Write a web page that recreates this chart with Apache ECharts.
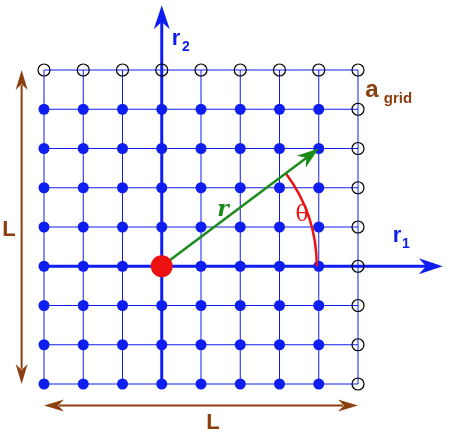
<!DOCTYPE html><html><head><meta charset="utf-8"><script src="https://cdn.jsdelivr.net/npm/echarts@6/dist/echarts.min.js"></script></head><body style="margin:0"><div id="c" style="width:461px;height:434px"></div><script>
var xs=[-3,-2,-1,0,1,2,3,4,5];
var ys=[-3,-2,-1,0,1,2,3,4,5];
var vecR=[4,3];
var arcR=3.95;
var r1End=7.16, r2End=6.65;
var lVertX=-3.57, lHorY=-3.55;
var BLUE='#0f1ef0', BROWN='#8b3f0f', GREEN='#1a8c1a', RED='#ee1111';
var chart=echarts.init(document.getElementById('c'));
function head(tip,tail,len,w,col){
 var dx=tip[0]-tail[0],dy=tip[1]-tail[1],d=Math.sqrt(dx*dx+dy*dy);dx/=d;dy/=d;
 var nx=-dy,ny=dx;
 var b=[tip[0]-dx*len,tip[1]-dy*len];
 var m=[tip[0]-dx*len*0.7,tip[1]-dy*len*0.7];
 return {type:'polygon',shape:{points:[tip,[b[0]+nx*w/2,b[1]+ny*w/2],m,[b[0]-nx*w/2,b[1]-ny*w/2]]},style:{fill:col}};
}
function line(a,b,col,w){return {type:'line',shape:{x1:a[0],y1:a[1],x2:b[0],y2:b[1]},style:{stroke:col,lineWidth:w}};}
function txt(p,t,col,size,extra){var s=Object.assign({x:p[0],y:p[1],text:t,fill:col,font:'bold '+size+'px Liberation Sans',align:'center',verticalAlign:'middle'},extra||{});return {type:'text',style:s};}
function render(params,api){
 var c=function(x,y){return api.coord([x,y]);};
 var ch=[];
 ys.forEach(function(y){ch.push(line(c(xs[0],y),c(xs[xs.length-1],y),BLUE,1));});
 xs.forEach(function(x){ch.push(line(c(x,ys[0]),c(x,ys[ys.length-1]),BLUE,1));});
 var o=c(0,0);
 ch.push(line(c(xs[0],0),c(r1End-0.4,0),BLUE,3));
 ch.push(head(c(r1End,0),o,24,16,BLUE));
 ch.push(line(c(0,ys[0]),c(0,r2End-0.4),BLUE,3));
 ch.push(head(c(0,r2End),o,24,16,BLUE));
 xs.forEach(function(x){ys.forEach(function(y){var p=c(x,y);
  var open=(x===xs[xs.length-1]||y===ys[ys.length-1]);
  ch.push({type:'circle',shape:{cx:p[0],cy:p[1],r:open?6:5.5},style:open?{fill:null,stroke:'#000',lineWidth:1.2}:{fill:BLUE}});
 });});
 var rp=c(arcR,0)[0]-o[0];var ang=Math.atan2(vecR[1],vecR[0]);
 ch.push({type:'arc',shape:{cx:o[0],cy:o[1],r:rp,startAngle:-ang,endAngle:0},style:{stroke:RED,lineWidth:2.5,fill:null}});
 var tip=c(vecR[0],vecR[1]);
 var dx=tip[0]-o[0],dy=tip[1]-o[1],d=Math.sqrt(dx*dx+dy*dy);
 ch.push(line(o,[tip[0]-dx/d*14,tip[1]-dy/d*14],GREEN,2.5));
 ch.push(head(tip,o,22,15,GREEN));
 ch.push({type:'circle',shape:{cx:o[0],cy:o[1],r:11},style:{fill:RED}});
 var a1=c(lVertX,ys[ys.length-1]),a2=c(lVertX,ys[0]);
 ch.push(line([a1[0],a1[1]+15],[a2[0],a2[1]-15],BROWN,2));
 ch.push(head(a1,a2,20,12,BROWN));ch.push(head(a2,a1,20,12,BROWN));
 var b1=c(xs[0],lHorY),b2=c(xs[xs.length-1],lHorY);
 ch.push(line([b1[0]+15,b1[1]],[b2[0]-15,b2[1]],BROWN,2));
 ch.push(head(b1,b2,20,12,BROWN));ch.push(head(b2,b1,20,12,BROWN));
 ch.push(txt([176,39],'r',BLUE,22));ch.push(txt([186,47],'2',BLUE,14));
 ch.push(txt([397,236],'r',BLUE,22));ch.push(txt([406,244],'1',BLUE,14));
 ch.push(txt([372,90],'a',BROWN,24));ch.push(txt([398,99],'grid',BROWN,15));
 ch.push(txt([9,230],'L',BROWN,22));ch.push(txt([213,423],'L',BROWN,22));
 ch.push(txt([223,210],'r',GREEN,22,{font:'italic bold 22px DejaVu Serif'}));
 ch.push(txt([302,215],'θ',RED,22,{font:'22px DejaVu Serif'}));
 return {type:'group',children:ch};
}
chart.setOption({animation:false,
 grid:{left:44,right:103,top:70,bottom:50},
 xAxis:{type:'value',min:xs[0],max:xs[xs.length-1],show:false},
 yAxis:{type:'value',min:ys[0],max:ys[ys.length-1],show:false},
 series:[{type:'custom',clip:false,renderItem:render,data:[[0,0]]}]});
</script></body></html>
